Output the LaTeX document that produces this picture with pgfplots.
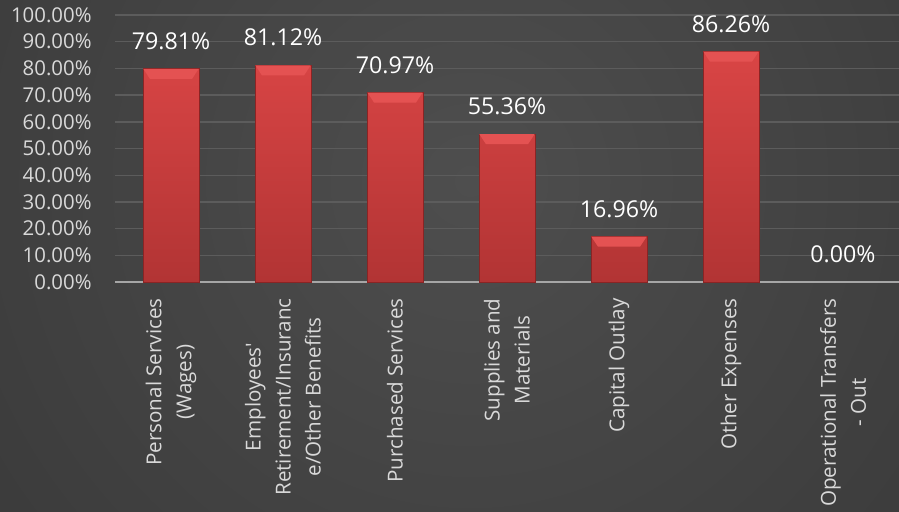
\documentclass[border=0pt]{standalone}
\usepackage{fontspec}
\setmainfont{Open Sans}[Ligatures=TeXOff]
\usepackage{pgfplots}
\pgfplotsset{compat=1.18}
\definecolor{bgin}{HTML}{4E4E4E}
\definecolor{bgout}{HTML}{2A2A2A}
\definecolor{gridgray}{HTML}{5C5C5C}
\definecolor{axisgray}{HTML}{A6A6A6}
\definecolor{lblgray}{HTML}{D9D9D9}
\definecolor{barTop}{HTML}{D94545}
\definecolor{barBot}{HTML}{B23434}
\definecolor{barEdge}{HTML}{8A2424}
\definecolor{bevel}{HTML}{E45252}
\pgfdeclareplotmark{bevel}{%
  \pgfpathmoveto{\pgfpoint{-13.8pt}{0pt}}%
  \pgfpathlineto{\pgfpoint{13.8pt}{0pt}}%
  \pgfpathlineto{\pgfpoint{10.5pt}{-5pt}}%
  \pgfpathlineto{\pgfpoint{-10.5pt}{-5pt}}%
  \pgfpathclose
  \pgfusepathqfill}
\begin{document}
\begin{tikzpicture}[x=1pt,y=1pt]
\fill[bgout] (0,0) rectangle (449.5,255.5);
\begin{scope}
\clip (0,0) rectangle (449.5,255.5);
\shade[inner color=bgin, outer color=bgout] (235,165) circle (560);
\end{scope}
\useasboundingbox (0,0) rectangle (449.5,255.5);
\begin{axis}[
  at={(57.5pt,114.5pt)}, anchor=south west,
  scale only axis, width=392pt, height=133.5pt,
  xmin=-0.5, xmax=6.5, ymin=0, ymax=100,
  axis x line*=bottom, axis y line*=left,
  x axis line style={draw=axisgray, line width=1.4pt, -},
  y axis line style={draw=none},
  major tick length=0pt,
  tick style={draw=none},
  ymajorgrids, grid style={draw=gridgray, line width=0.7pt},
  ytick={0,10,20,30,40,50,60,70,80,90,100},
  yticklabels={0.00\%,10.00\%,20.00\%,30.00\%,40.00\%,50.00\%,60.00\%,70.00\%,80.00\%,90.00\%,100.00\%},
  yticklabel style={font=\fontsize{10.2}{12}\selectfont, text=lblgray, inner sep=0pt, anchor=east},
  yticklabel shift=11.5pt,
  xtick={0,1,2,3,4,5,6},
  xticklabels={{Personal Services\\(Wages)},{Employees'\\Retirement/Insuranc\\e/Other Benefits},{Purchased Services},{Supplies and\\Materials},{Capital Outlay},{Other Expenses},{Operational Transfers\\- Out}},
  xticklabel style={font=\fontsize{10.3}{15}\selectfont, text=lblgray, rotate=90, anchor=east, align=center, inner sep=0pt},
  xticklabel shift=8pt,
  clip=false,
  nodes near coords style={font=\fontsize{11.6}{14}\selectfont, text=white, anchor=south, inner sep=0pt, yshift=9.3pt},
]
% bars (values > 0)
\addplot[ybar, bar width=0.5, bar shift=0pt, top color=barTop, bottom color=barBot, draw=barEdge, line width=0.5pt,
  point meta=explicit symbolic, nodes near coords]
coordinates {
(0,79.81) [79.81\%]
(1,81.12) [81.12\%]
(2,70.97) [70.97\%]
(3,55.36) [55.36\%]
(4,16.96) [16.96\%]
(5,86.26) [86.26\%]
};
% bevel on top of each bar
\addplot[only marks, mark=bevel, color=bevel, forget plot]
coordinates {
(0,79.81)
(1,81.12)
(2,70.97)
(3,55.36)
(4,16.96)
(5,86.26)
};
% zero-valued category: label only
\addplot[draw=none, mark=none, point meta=explicit symbolic, nodes near coords]
coordinates {
(6,0.00) [0.00\%]
};
\end{axis}
\end{tikzpicture}
\end{document}
